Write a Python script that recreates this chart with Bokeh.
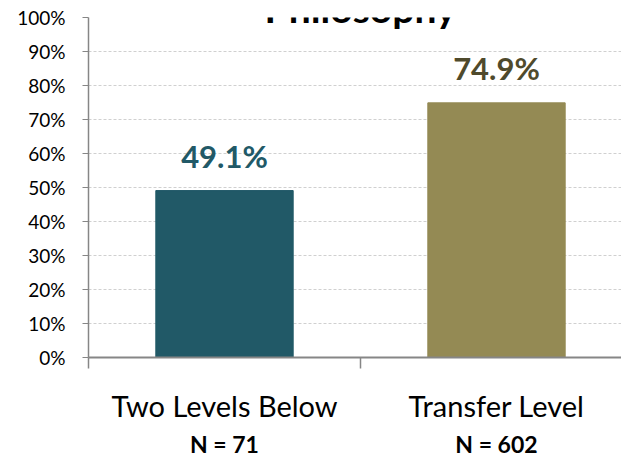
from bokeh.plotting import figure
from bokeh.models import (Range1d, FixedTicker, NumeralTickFormatter, LinearAxis,
                          ColumnDataSource, LabelSet, Label)
from bokeh.core.properties import value
from bokeh.embed import file_html
from bokeh.resources import INLINE

title_text = "Philosophy"
categories = ["Two Levels Below", "Transfer Level"]
n_labels = ["N = 71", "N = 602"]
values = [0.491, 0.749]
bar_colors = ["#215967", "#948A54"]
label_colors = ["#215967", "#4F4A2C"]
y_ticks = [0.0, 0.1, 0.2, 0.3, 0.4, 0.5, 0.6, 0.7, 0.8, 0.9, 1.0]

FONT = "Lato"
centers = [i + 0.5 for i in range(len(categories))]

p = figure(width=621, height=462, output_backend="svg", toolbar_location=None,
           x_range=Range1d(0, 533 / 272), y_range=Range1d(0, 1),
           min_border_left=88, min_border_right=0, min_border_top=17,
           min_border_bottom=105, x_axis_location=None)
p.outline_line_color = None
p.background_fill_color = "white"
p.border_fill_color = "white"

src = ColumnDataSource(dict(x=centers, top=values, color=bar_colors,
                            lcolor=label_colors,
                            text=["%.1f%%" % (v * 100) for v in values]))
p.vbar(x="x", top="top", bottom=0, width=0.505, color="color", source=src)

labels = LabelSet(x="x", y="top", text="text", source=src, text_align="center",
                  text_baseline="alphabetic", y_offset=23, text_color="lcolor",
                  text_font=value(FONT), text_font_style="bold",
                  text_font_size="31px")
p.add_layout(labels)

# y axis
ya = p.yaxis[0]
ya.ticker = FixedTicker(ticks=y_ticks)
ya.formatter = NumeralTickFormatter(format="0%")
ya.axis_line_color = "#868686"
ya.axis_line_width = 1.5
ya.major_tick_line_color = "#868686"
ya.major_tick_out = 6
ya.major_tick_in = 0
ya.minor_tick_line_color = None
ya.major_label_text_font = FONT
ya.major_label_text_font_size = "19px"
ya.major_label_text_color = "#000000"
ya.major_label_standoff = 17

p.ygrid.ticker = FixedTicker(ticks=y_ticks[1:])
p.ygrid.grid_line_color = "#d0d0d0"
p.ygrid.grid_line_dash = "3 2"
p.ygrid.grid_line_width = 1
p.xgrid.grid_line_color = None

# category axis
xa = LinearAxis(ticker=FixedTicker(ticks=centers, minor_ticks=[0, 1, 2]),
                major_label_overrides={c: t for c, t in zip(centers, categories)})
xa.axis_line_color = "#868686"
xa.axis_line_width = 2
xa.major_tick_line_color = None
xa.major_tick_out = 0
xa.major_tick_in = 0
xa.minor_tick_line_color = "#868686"
xa.minor_tick_line_width = 1.5
xa.minor_tick_out = 11
xa.minor_tick_in = 0
xa.major_label_text_font = FONT
xa.major_label_text_font_size = "29px"
xa.major_label_text_color = "#000000"
xa.major_label_standoff = 19
p.add_layout(xa, "below")

# N axis
na = LinearAxis(ticker=FixedTicker(ticks=centers),
                major_label_overrides={c: t for c, t in zip(centers, n_labels)})
na.axis_line_color = None
na.major_tick_line_color = None
na.minor_tick_line_color = None
na.major_tick_out = 0
na.major_tick_in = 0
na.major_label_text_font = FONT
na.major_label_text_font_size = "23px"
na.major_label_text_font_style = "bold"
na.major_label_text_color = "#000000"
na.major_label_standoff = 4
p.add_layout(na, "below")

p.add_layout(Label(x=1.0, y=1.0265, text=title_text, text_align="center",
                   text_baseline="alphabetic", text_font=FONT,
                   text_font_style="bold", text_font_size="39px",
                   text_color="#000000"))

open("out.html", "w").write(file_html(p, INLINE))
